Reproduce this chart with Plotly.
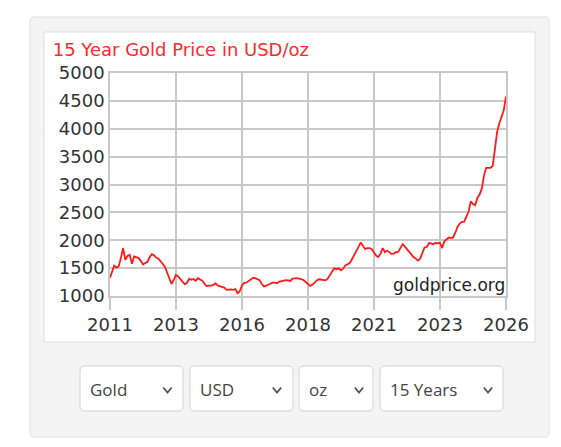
import pandas as pd
import plotly.graph_objects as go

# monthly gold price, USD/oz
prices_2011_2015 = [1330, 1460, 1545, 1510, 1530, 1680, 1860, 1650, 1720, 1740, 1580, 1710,
                    1690, 1680, 1630, 1565, 1590, 1610, 1690, 1750, 1730, 1690, 1670, 1630,
                    1575, 1515, 1420, 1330, 1215, 1290, 1380, 1350, 1300, 1260, 1210, 1235,
                    1310, 1290, 1305, 1275, 1320, 1295, 1275, 1220, 1175, 1185, 1185, 1200,
                    1225, 1185, 1170, 1165, 1150, 1110, 1120, 1120, 1110, 1125, 1050, 1085]
prices_2016_2020 = [1190, 1235, 1240, 1270, 1310, 1325, 1320, 1300, 1285, 1215, 1170, 1185,
                    1205, 1225, 1240, 1240, 1230, 1260, 1270, 1270, 1285, 1280, 1270, 1310,
                    1320, 1320, 1310, 1305, 1285, 1245, 1220, 1180, 1200, 1240, 1280, 1300,
                    1295, 1280, 1280, 1310, 1370, 1420, 1500, 1480, 1500, 1460, 1490, 1550,
                    1570, 1590, 1660, 1730, 1790, 1880, 1960, 1910, 1840, 1860, 1860, 1840]
prices_2021_2026 = [1790, 1720, 1700, 1760, 1860, 1785, 1815, 1780, 1755, 1760, 1785, 1790,
                    1850, 1930, 1890, 1840, 1790, 1740, 1700, 1670, 1635, 1670, 1790, 1870,
                    1880, 1950, 1945, 1930, 1950, 1945, 1955, 1860, 1980, 2015, 2050, 2040,
                    2050, 2140, 2240, 2300, 2330, 2335, 2440, 2510, 2700, 2650, 2630, 2760,
                    2820, 2930, 3150, 3300, 3300, 3300, 3330, 3650, 3950, 4100, 4210, 4330,
                    4580]
prices = prices_2011_2015 + prices_2016_2020 + prices_2021_2026
dates = pd.date_range('2011-01-01', periods=len(prices), freq='MS')

tick_dates = ['2011-01-01', '2013-07-02', '2016-01-01', '2018-07-02',
              '2021-01-01', '2023-07-02', '2026-01-01']
tick_labels = ['2011', '2013', '2016', '2018', '2021', '2023', '2026']

dropdowns = ['Gold', 'USD', 'oz', '15 Years']

W, H = 561, 447
OFF = 8  # page body margin
PL, PR, PT, PB = 110, 506, 73, 296  # plot area in page pixels


def px(x):
    return (x - PL) / (PR - PL)


def py(y):
    return (PB - y) / (PB - PT)


def rrect(x0, y0, x1, y1, r):
    pts = [('M', [(x0 + r, y0)]), ('L', [(x1 - r, y0)]), ('Q', [(x1, y0), (x1, y0 + r)]),
           ('L', [(x1, y1 - r)]), ('Q', [(x1, y1), (x1 - r, y1)]), ('L', [(x0 + r, y1)]),
           ('Q', [(x0, y1), (x0, y1 - r)]), ('L', [(x0, y0 + r)]), ('Q', [(x0, y0), (x0 + r, y0)])]
    s = ''
    for cmd, ps in pts:
        s += cmd + ' ' + ' '.join(f'{px(a):.5f},{py(b):.5f}' for a, b in ps) + ' '
    return s + 'Z'


grid = '#c8c8c8'

fig = go.Figure()
fig.add_trace(go.Scatter(x=dates, y=prices, mode='lines',
                         line=dict(color='#ff1a1a', width=1.8), showlegend=False))

shapes = [
    dict(type='path', path=rrect(30, 17, 549, 437, 4), xref='paper', yref='paper',
         fillcolor='#f4f4f4', line=dict(color='#e0e0e0', width=1), layer='below'),
    dict(type='rect', x0=px(44), x1=px(535), y0=py(32), y1=py(342), xref='paper', yref='paper',
         fillcolor='white', line=dict(color='#dddddd', width=1), layer='below'),
]
annotations = []

boxes = [(80, 183), (190, 293), (299, 373), (380, 503)]
text_x = [88, 198, 307, 388]
chev_x = [167.5, 277, 359, 488]
for (b0, b1), label, tx, cx in zip(boxes, dropdowns, text_x, chev_x):
    shapes.append(dict(type='path', path=rrect(b0, 366, b1, 411, 5), xref='paper', yref='paper',
                       fillcolor='white', line=dict(color='#d2d2d2', width=1), layer='above'))
    shapes.append(dict(type='path',
                       path=f'M {px(cx - 4.2):.5f},{py(387.5):.5f} L {px(cx):.5f},{py(392.5):.5f} '
                            f'L {px(cx + 4.2):.5f},{py(387.5):.5f}',
                       xref='paper', yref='paper', line=dict(color='#555555', width=1.8)))
    annotations.append(dict(x=px(tx), y=py(389), xref='paper', yref='paper', text=label,
                            showarrow=False, xanchor='left', yanchor='middle',
                            font=dict(family='Open Sans', size=17, color='#444444')))

annotations.append(dict(x=1, y=0, xref='paper', yref='paper', text='goldprice.org',
                        showarrow=False, xanchor='right', yanchor='bottom', borderpad=0,
                        font=dict(family='DejaVu Sans', size=17, color='#222222')))

fig.update_layout(
    width=W - OFF, height=H - OFF,
    margin=dict(l=PL - OFF, r=W - PR, t=PT - OFF, b=H - PB),
    paper_bgcolor='white', plot_bgcolor='white',
    title=dict(text='15 Year Gold Price in USD/oz', xref='container', yref='container',
               x=(52.7 - OFF) / (W - OFF), y=1 - (49.3 - OFF) / (H - OFF),
               xanchor='left', yanchor='middle',
               font=dict(family='DejaVu Sans', size=18, color='#ff2a2a')),
    xaxis=dict(type='date', range=['2011-01-01', '2026-01-01'],
               tickvals=tick_dates, ticktext=tick_labels,
               showgrid=True, gridcolor=grid, gridwidth=1.5,
               ticks='outside', ticklen=12, tickcolor=grid, tickwidth=1.5,
               showline=True, linecolor=grid, linewidth=1.5, mirror=True,
               tickfont=dict(family='DejaVu Sans', size=18, color='#333333')),
    yaxis=dict(range=[1000, 5000], dtick=500, tick0=1000,
               showgrid=True, gridcolor=grid, gridwidth=1.5, zeroline=False,
               showline=True, linecolor=grid, linewidth=1.5, mirror=True,
               ticks='', tickfont=dict(family='DejaVu Sans', size=18, color='#333333')),
    shapes=shapes, annotations=annotations,
)

fig.write_html('out.html')
